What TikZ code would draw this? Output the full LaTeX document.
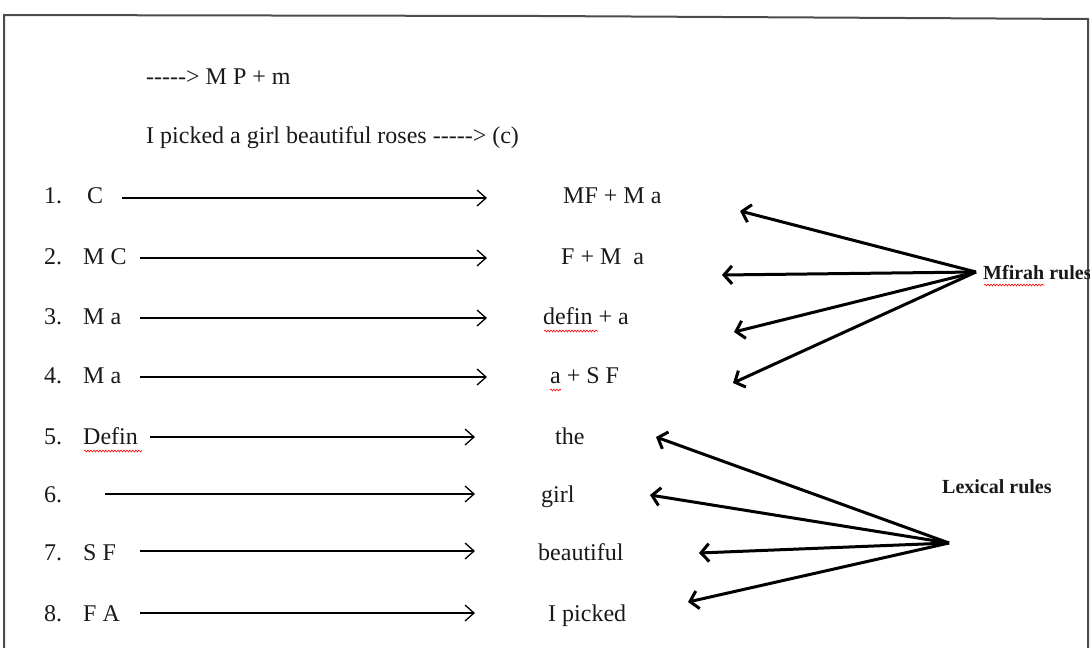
\documentclass[tikz,border=0pt]{standalone}
\usepackage{fontspec}
\setmainfont{Liberation Serif}
\usetikzlibrary{arrows.meta,decorations.pathmorphing}
\newcommand{\dsh}{-{}-{}-{}-{}-{}>}
\begin{document}
\begin{tikzpicture}[x=1pt,y=-1pt,
  txt/.style={anchor=base west,inner sep=0pt,font=\fontsize{24}{27}\selectfont,text=black!90},
  rul/.style={anchor=west,inner sep=0pt,font=\fontsize{20}{23}\selectfont\bfseries,text=black!90},
  harrow/.style={line width=1.3pt,-{Straight Barb[length=9pt,width=16pt,line width=1.3pt]}},
  fanarrow/.style={line width=3pt,-{Straight Barb[length=8pt,width=18pt,line width=3pt]}},
  squig/.style={red,line width=0.6pt,decorate,decoration={snake,amplitude=0.9pt,segment length=3pt}},
  frame/.style={black!70,line width=2pt}]
\useasboundingbox (0,0) rectangle (1090,648);
% frame
\draw[frame] (4,648) -- (4,15) -- (540,16) -- (1088,19) -- (1088,648);
% header lines
\node[txt] (h1) at (146,84) {\dsh{} M P + m};
\node[txt] (h2) at (146,143) {I picked a girl beautiful roses \dsh{} (c)};
% numbers
\foreach \n/\y in {1/203,2/264,3/324,4/383,5/444,6/502,7/560,8/621}
  \node[txt] (n\n) at (44,\y) {\n.};
% left labels
\node[txt] (l1) at (87,203) {C};
\node[txt] (l2) at (83,264) {M C};
\node[txt] (l3) at (83,324) {M a};
\node[txt] (l4) at (83,383) {M a};
\node[txt] (l5) at (83,444) {Defin};
\node[txt] (l7) at (83,560) {S F};
\node[txt] (l8) at (83,621) {F A};
% right results
\node[txt] (r1) at (563,203) {MF + M a};
\node[txt] (r2) at (561,264) {F + M\ \ a};
\node[txt] (r3) at (543,324) {defin + a};
\node[txt] (r4) at (550,383) {a + S F};
\node[txt] (r5) at (555,444) {the};
\node[txt] (r6) at (541,502) {girl};
\node[txt] (r7) at (538,560) {beautiful};
\node[txt] (r8) at (548,621) {I picked};
% horizontal arrow endpoints
\coordinate (s1) at (122,198); \coordinate (e1) at (487,198);
\coordinate (s2) at (140,258); \coordinate (e2) at (487,258);
\coordinate (s3) at (140,318); \coordinate (e3) at (487,318);
\coordinate (s4) at (140,377); \coordinate (e4) at (487,377);
\coordinate (s5) at (150,437); \coordinate (e5) at (475,437);
\coordinate (s6) at (105,494); \coordinate (e6) at (475,494);
\coordinate (s7) at (140,551); \coordinate (e7) at (475,551);
\coordinate (s8) at (140,613); \coordinate (e8) at (475,613);
\foreach \i in {1,...,8} \draw[harrow] (s\i) -- (e\i);
% rule labels
\node[rul] (mf) at (983,273) {Mfirah rules};
\node[rul] (lx) at (942,487) {Lexical rules};
% fans
\coordinate (hm) at (976,272);
\coordinate (tm1) at (740,211);
\coordinate (tm2) at (722,275);
\coordinate (tm3) at (734,332);
\coordinate (tm4) at (733,383);
\foreach \i in {1,...,4} \draw[fanarrow] (hm) -- (tm\i);
\coordinate (hl) at (949,543);
\coordinate (tl1) at (656,437);
\coordinate (tl2) at (650,495);
\coordinate (tl3) at (699,553);
\coordinate (tl4) at (688,602);
\foreach \i in {1,...,4} \draw[fanarrow] (hl) -- (tl\i);
% spell-check squiggles
\draw[squig] (84,451) -- (142,451);
\draw[squig] (544,331) -- (598,331);
\draw[squig] (550,390) -- (561,390);
\draw[squig] (984,285) -- (1044,285);
\end{tikzpicture}
\end{document}
